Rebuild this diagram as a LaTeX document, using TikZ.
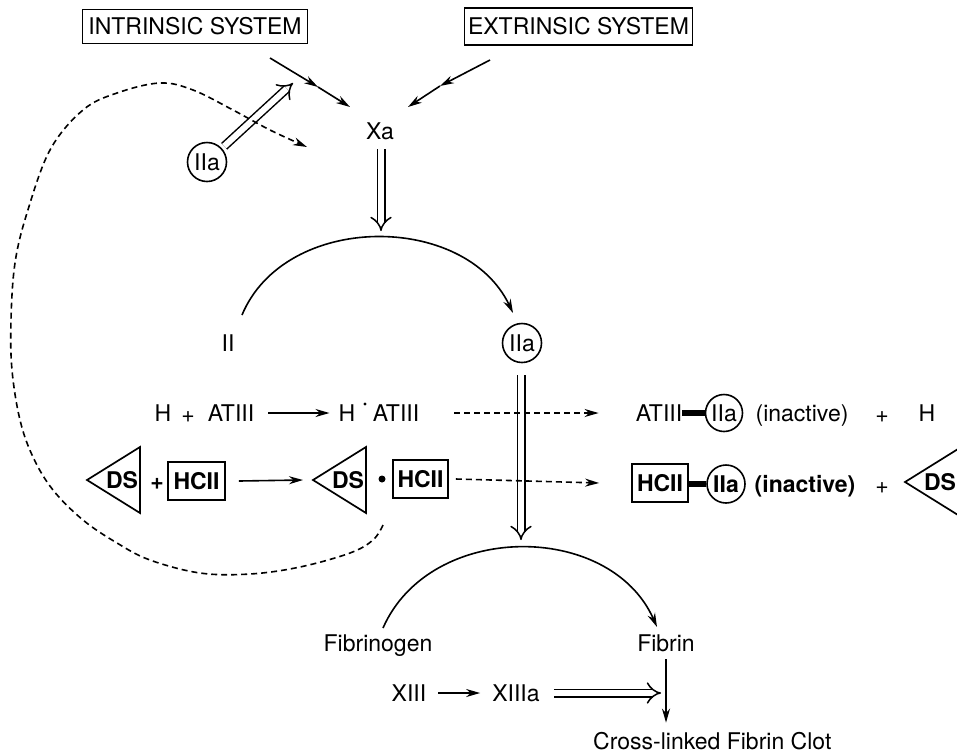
\documentclass[tikz,border=0pt]{standalone}
\usepackage{fontspec}
\setmainfont{TeX Gyre Heros}
\usetikzlibrary{arrows.meta,calc}

% triangle drawn round a "DS" label (apex to the left)
\newcommand\dstri[1]{\draw[tri] ($(#1)+(-35,0)$) -- ($(#1)+(18,-33)$) -- ($(#1)+(18,33)$) -- cycle;}

\begin{document}
\begin{tikzpicture}[x=1pt,y=-1pt,
  txt/.style={inner sep=0pt, font=\fontsize{23}{27}\selectfont, text height=16.4pt, text depth=0pt},
  btxt/.style={txt, font=\fontsize{23}{27}\selectfont\bfseries},
  sysbox/.style={txt, draw, line width=1.6pt, minimum height=34pt},
  hcbox/.style={btxt, draw, line width=1.7pt, minimum width=56pt, minimum height=38pt},
  factor/.style={txt, draw, circle, line width=1.6pt, minimum size=39pt},
  bfactor/.style={factor, font=\fontsize{23}{27}\selectfont\bfseries},
  tri/.style={line width=1.7pt, line join=miter},
  conn/.style={line width=1.6pt, -{Stealth[length=14pt,width=8pt]}},
  dconn/.style={conn, dash pattern=on 6pt off 4pt},
  dbl/.style={double, line width=1.5pt, double distance=6pt, -{Implies[scale=1.3]}},
  bond/.style={line width=5.5pt}]

\useasboundingbox (0,0) rectangle (957,753);
\clip (0,0) rectangle (957,753);

% ---- top: the two activation systems and factor Xa
\node[sysbox, minimum width=225pt] (intr) at (195,26.5) {INTRINSIC SYSTEM};
\node[sysbox, minimum width=228pt, minimum height=37pt] (extr) at (578.5,26.5) {EXTRINSIC SYSTEM};
\node[txt] (xa) at (380,131) {Xa};
\node[factor] (iia1) at (207,162) {IIa};

\coordinate (i0) at (270,58); \coordinate (i1) at (318,87); \coordinate (i2) at (350,107);
\coordinate (e0) at (490,60); \coordinate (e1) at (440,86); \coordinate (e2) at (408,107);
\draw[conn] (i0) -- (i1); \draw[conn] (i1) -- (i2);
\draw[conn] (e0) -- (e1); \draw[conn] (e1) -- (e2);

\coordinate (iatip) at (293,83);
\draw[dbl, shorten <=3pt] (iia1) -- (iatip);

\coordinate (xatip) at (381,231);
\draw[dbl, shorten <=10pt] (xa.south -| xatip) -- (xatip);

% ---- prothrombin -> thrombin
\node[txt] (ii) at (228,343) {II};
\node[factor] (iia2) at (522,343) {IIa};
\coordinate (arcA) at (242,315); \coordinate (arcB) at (513,313);
\draw[conn] (arcA) .. controls (285,212) and (465,212) .. (arcB);

\coordinate (fbtip) at (521,540);
\draw[dbl, shorten <=12pt] (iia2.south -| fbtip) -- (fbtip);

% ---- heparin / antithrombin III row
\node[txt] (h1) at (163,413) {H};
\node[txt] (p1) at (188,414) {+};
\node[txt] (at1) at (231,413) {ATIII};
\node[txt] (h2) at (347,413) {H};
\coordinate (hdot) at (365,404);
\fill (hdot) circle (1.7pt);
\node[txt] (at2) at (396,413) {ATIII};
\draw[conn] ([xshift=14pt]at1.east) -- ([xshift=-9pt]h2.west);

\node[txt] (at3) at (659,413) {ATIII};
\node[factor, minimum size=37pt] (iia3) at (724,413) {IIa};
\draw[bond] (at3.east) -- (iia3.west);
\node[txt] (in1) at (802,413) {(inactive)};
\node[txt] (p3) at (882,414) {+};
\node[txt] (h3) at (927,413) {H};
\draw[dconn] ([xshift=35pt]at2.east) -- ([xshift=-37pt]at3.west);

% ---- dermatan sulfate / heparin cofactor II row
\node[btxt] (ds1) at (122,480) {DS};
\dstri{ds1}
\node[btxt] (p2) at (157,481) {+};
\node[hcbox, minimum width=57pt] (hc1) at (196.5,481) {HCII};
\node[btxt] (ds2) at (348,480) {DS};
\dstri{ds2}
\coordinate (bul) at (382,479);
\fill (bul) circle (3.5pt);
\node[hcbox, minimum width=55pt] (hc2) at (420.5,479) {HCII};
\draw[conn] ([xshift=13pt]hc1.east) -- ([xshift=-45pt]ds2.center);

\node[hcbox] (hc3) at (660,483) {HCII};
\node[bfactor, minimum size=38pt] (iia4) at (726,484) {IIa};
\draw[bond] (hc3.east |- iia4) -- (iia4.west);
\node[btxt] (in2) at (805,484) {(inactive)};
\node[txt] (p4) at (882,485) {+};
\node[btxt] (ds3) at (940,482) {DS};
\dstri{ds3}
\draw[dconn] ([xshift=7pt]hc2.east) -- ([xshift=-32pt]hc3.west);

% ---- feedback loop from the DS.HCII complex back to Xa formation
\coordinate (loopA) at (383,525);
\coordinate (loopB) at (307,147);
\draw[dconn] plot[smooth, tension=0.6] coordinates {(383,525) (373,540) (350,553) (300,567) (250,574) (200,573) (150,560) (117,543) (83,520) (53,490) (33,457) (20,420) (12,370) (11,320) (15,263) (27,213) (50,150) (83,110) (117,93) (160,83) (193,90) (233,110) (270,130) (307,147)};

% ---- fibrin formation and cross-linking
\node[txt] (fgn) at (378,643) {Fibrinogen};
\node[txt] (fbn) at (666,643) {Fibrin};
\coordinate (fA) at (383,628); \coordinate (fB) at (657,627);
\draw[conn] (fA) .. controls (430,521) and (610,521) .. (fB);

\node[txt] (x13) at (409,693) {XIII};
\node[txt] (x13a) at (516,693) {XIIIa};
\draw[conn] ([xshift=12pt]x13.east) -- ([xshift=-12pt]x13a.west);
\coordinate (xtip) at (661,693);
\draw[dbl] ([xshift=14pt]x13a.east) -- (xtip);

\node[txt, anchor=west] (clot) at (593,741) {Cross-linked Fibrin Clot};
\draw[conn, shorten <=16pt, shorten >=10pt] (fbn.center) -- (fbn |- clot.north);
\end{tikzpicture}
\end{document}
